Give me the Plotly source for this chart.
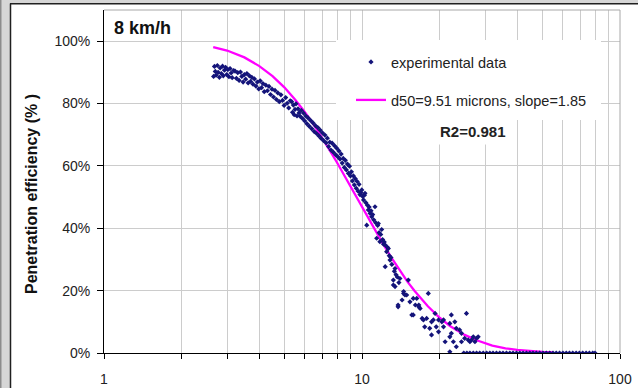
import plotly.graph_objects as go

# ---------------- data ----------------
exp_x = [2.66, 2.68, 2.70, 2.72, 2.75, 2.77, 2.80, 2.82, 2.85, 2.88, 2.90, 2.93, 2.96, 2.99, 3.02, 3.05, 3.08, 3.11, 3.14, 3.18,
         3.22, 3.26, 3.30, 3.34, 3.38, 3.42, 3.46, 3.50, 3.54, 3.58, 3.62, 3.66, 3.70, 3.74, 3.78,
         3.83, 3.88, 3.93, 3.98, 4.03, 4.08, 4.13, 4.18, 4.24, 4.30, 4.36, 4.42, 4.48,
         4.54, 4.60, 4.66, 4.72, 4.78, 4.85, 4.92, 4.99, 5.06, 5.13, 5.20, 5.27,
         5.34, 5.38, 5.42, 5.46, 5.50, 5.55, 5.60, 5.65, 5.70, 5.76,
         5.82, 5.88, 5.94, 6.00, 6.06, 6.12, 6.18, 6.25, 6.32, 6.39, 6.46, 6.53, 6.60, 6.67, 6.74, 6.81, 6.88, 6.95, 7.02, 7.10, 7.18, 7.26,
         7.34, 7.42, 7.50, 7.58, 7.66, 7.74, 7.82, 7.90, 7.98, 8.06, 8.14, 8.22,
         8.30, 8.38, 8.46, 8.54, 8.62, 8.70, 8.78, 8.86, 8.94, 9.02,
         9.10, 9.18, 9.26, 9.34, 9.42, 9.50, 9.58, 9.66, 9.74, 9.82,
         9.90, 9.98, 10.06, 10.14, 10.22, 10.27, 10.35, 10.43, 10.50, 10.58, 10.66, 10.75, 10.84, 10.90, 11.00, 11.10, 11.23, 11.30,
         11.40, 11.50, 11.57, 11.65, 11.73, 11.82, 11.92, 12.02, 12.12, 12.20, 12.30, 12.30, 12.46, 12.55, 12.65, 12.75, 12.84, 12.95,
         13.05, 13.23, 13.23, 13.35, 13.43, 13.43, 13.55, 13.70, 13.80, 13.80, 13.90, 14.03, 14.30, 14.50, 14.50, 14.67, 14.90, 15.12,
         15.34, 15.60, 15.80, 15.80, 16.10, 16.30, 16.60, 16.60, 16.80, 17.10, 17.30, 17.50, 17.80, 18.07, 18.30, 18.60, 18.60, 18.90,
         19.20, 19.40, 19.80, 19.80, 20.40, 20.70, 20.70, 21.00, 21.90, 21.90, 21.90, 22.20, 22.20, 22.60, 22.90, 23.20, 23.20, 23.90,
         24.30, 24.30, 25.00, 25.40, 25.80, 26.20, 26.60, 27.00, 27.40, 27.80, 28.20,
         24.8, 25.5, 26.2, 27.0, 27.8, 28.6, 29.5, 30.4, 31.3, 32.2, 33.2, 34.2, 35.2, 36.3, 37.4, 38.5, 39.7, 40.9, 42.1, 43.4,
         44.7, 46.0, 47.4, 48.8, 50.3, 51.8, 53.4, 55.0, 56.6, 58.3, 60.1, 61.9, 63.7, 65.6, 67.6, 69.6, 71.7, 73.9, 76.1, 78.4, 80.0]

exp_y = [88.7, 91.9, 90.3, 89.1, 92.2, 90.0, 88.4, 91.4, 89.6, 92.0, 88.9, 90.7, 91.6, 89.3, 90.9, 88.6, 91.2, 89.8, 88.3, 90.6,
         90.4, 88.1, 89.9, 87.4, 90.1, 88.7, 86.9, 89.3, 87.8, 89.6, 86.6, 88.9, 87.1, 88.4, 86.2,
         87.9, 85.6, 86.9, 84.7, 87.3, 85.1, 86.4, 83.8, 85.9, 84.1, 85.5, 82.9, 84.6,
         82.1, 84.2, 81.3, 83.4, 80.6, 82.8, 81.0, 79.4, 81.9, 80.1, 78.6, 80.9,
         80.6, 77.2, 79.5, 76.4, 78.1, 79.9, 76.0, 78.3, 77.0, 75.9,
         77.8, 75.2, 76.9, 74.4, 76.0, 73.5, 75.4, 72.7, 74.6, 71.9, 73.8, 71.0, 72.9, 70.4, 72.3, 69.6, 71.5, 68.8, 70.6, 68.1, 69.9, 67.4,
         68.9, 66.2, 67.6, 65.1, 67.3, 64.4, 66.5, 63.6, 65.7, 62.9, 64.8, 62.2,
         63.8, 60.9, 62.4, 59.5, 61.8, 58.7, 60.6, 57.6, 59.9, 56.8,
         58.1, 55.2, 56.8, 53.9, 55.9, 52.8, 55.0, 51.9, 54.1, 50.8,
         51.4, 52.3, 50.2, 49.1, 50.6, 51.2, 48.2, 41.0, 47.4, 45.9, 46.8, 44.8, 45.6, 43.7, 44.4, 42.7, 46.9, 41.8,
         36.8, 40.9, 41.5, 38.6, 35.7, 38.0, 39.6, 36.4, 34.9, 35.6, 34.6, 27.7, 32.5, 33.9, 33.5, 31.2, 29.8, 30.6,
         28.4, 23.4, 21.8, 26.2, 27.1, 21.3, 25.1, 24.4, 15.4, 14.8, 22.6, 23.9, 17.0, 19.1, 19.7, 18.6, 18.6, 23.4,
         16.4, 12.2, 17.5, 12.2, 15.4, 17.5, 14.8, 15.4, 14.3, 11.1, 10.6, 8.4, 11.1, 19.1, 7.9, 10.0, 5.8, 10.6,
         12.7, 8.4, 10.6, 6.8, 10.0, 10.6, 8.4, 3.6, 9.5, 5.2, 0.4, 12.2, 6.3, 3.6, 10.0, 7.9, 2.0, 7.4,
         6.3, 3.6, 4.7, 12.7, 4.2, 3.6, 4.2, 5.2, 3.6, 4.7, 5.2,
         0.0, 0.0, 0.0, 0.0, 0.0, 0.0, 0.0, 0.0, 0.0, 0.0, 0.0, 0.0, 0.0, 0.0, 0.0, 0.0, 0.0, 0.0, 0.0, 0.0,
         0.0, 0.0, 0.0, 0.0, 0.0, 0.0, 0.0, 0.0, 0.0, 0.0, 0.0, 0.0, 0.0, 0.0, 0.0, 0.0, 0.0, 0.0, 0.0, 0.0, 0.0]

fit_x = [2.65, 3.0, 3.5, 4.0, 4.5, 5.0, 5.5, 6.0, 6.5, 7.0, 7.5, 8.0, 8.5, 9.0, 9.51, 10.0, 11.0, 12.0, 13.0, 14.0,
         15.0, 16.0, 18.0, 20.0, 22.0, 25.0, 28.0, 32.0, 36.0, 40.0, 45.0, 50.0, 55.0]
fit_y = [98.1, 97.0, 94.8, 92.0, 88.8, 85.2, 81.3, 77.3, 73.2, 69.1, 65.0, 61.1, 57.2, 53.6, 50.0, 46.7, 40.6, 35.3, 30.6, 26.5,
         22.9, 19.9, 15.0, 11.3, 8.6, 5.8, 4.0, 2.4, 1.5, 1.0, 0.6, 0.35, 0.22]

x_tick_vals = [1, 2, 3, 4, 5, 6, 7, 8, 9, 10, 20, 30, 40, 50, 60, 70, 80, 90, 100]
x_tick_text = ["1", "", "", "", "", "", "", "", "", "10", "", "", "", "", "", "", "", "", "100"]
y_tick_vals = [0, 20, 40, 60, 80, 100]
y_tick_text = ["0%", "20%", "40%", "60%", "80%", "100%"]

# ---------------- geometry helpers ----------------
W, H = 638, 388
L, R, T, B = 104, 18, 10, 35
PW, PH = W - L - R, H - T - B


def px(xp):
    return (xp - L) / PW


def py(yp):
    return (H - B - yp) / PH


FONT = "Liberation Sans, Arial, sans-serif"

fig = go.Figure()

fig.add_trace(go.Scatter(
    x=fit_x, y=fit_y, mode="lines",
    line=dict(color="#ff00ff", width=2.3),
    name="d50=9.51 microns, slope=1.85",
    legend="legend2",
))

fig.add_trace(go.Scatter(
    x=exp_x, y=exp_y, mode="markers",
    marker=dict(symbol="diamond", size=4, color="#14147a"),
    name="experimental data",
    legend="legend",
))

shapes = []
shapes.append(dict(type="rect", xref="paper", yref="paper",
                   x0=px(336), x1=px(601), y0=py(120), y1=py(40),
                   fillcolor="white", line=dict(width=0), layer="above"))
shapes.append(dict(type="line", xref="paper", yref="paper", x0=0, x1=1, y0=1, y1=1,
                   line=dict(color="#a8a8a8", width=1)))
shapes.append(dict(type="line", xref="paper", yref="paper", x0=1, x1=1, y0=0, y1=1,
                   line=dict(color="#a8a8a8", width=1)))
shapes.append(dict(type="rect", xref="paper", yref="paper",
                   x0=px(0), x1=px(10), y0=py(H), y1=py(0),
                   fillcolor="#d6d6d6", line=dict(width=0)))
shapes.append(dict(type="rect", xref="paper", yref="paper",
                   x0=px(0), x1=px(W), y0=py(3.2), y1=py(0),
                   fillcolor="#d6d6d6", line=dict(width=0)))
shapes.append(dict(type="rect", xref="paper", yref="paper",
                   x0=px(0), x1=px(1.5), y0=py(H), y1=py(0),
                   fillcolor="#8c8c8c", line=dict(width=0)))
shapes.append(dict(type="line", xref="paper", yref="paper",
                   x0=px(10.5), x1=px(10.5), y0=py(H), y1=py(3.5),
                   line=dict(color="#202020", width=1.5)))
shapes.append(dict(type="line", xref="paper", yref="paper",
                   x0=px(10), x1=px(W), y0=py(3.8), y1=py(3.8),
                   line=dict(color="#202020", width=1.5)))

annotations = [
    dict(text="<b>8 km/h</b>", xref="paper", yref="paper", x=px(112), y=py(28),
         xanchor="left", yanchor="middle", showarrow=False,
         font=dict(family=FONT, size=18, color="#111")),
    dict(text="<b>R2=0.981</b>", xref="paper", yref="paper", x=px(472), y=py(131),
         xanchor="center", yanchor="middle", showarrow=False, bgcolor="white", borderpad=4,
         font=dict(family=FONT, size=15, color="#222")),
    dict(text="<b>Penetration efficiency (% )</b>", xref="paper", yref="paper", x=px(31), y=py(194),
         xanchor="center", yanchor="middle", showarrow=False, textangle=-90,
         font=dict(family=FONT, size=16, color="#111")),
]

fig.update_layout(
    width=W, height=H,
    margin=dict(l=L, r=R, t=T, b=B, pad=0, autoexpand=False),
    paper_bgcolor="white", plot_bgcolor="white",
    font=dict(family=FONT, size=13, color="#222"),
    showlegend=True,
    legend=dict(x=px(351), y=py(62), xanchor="left", yanchor="middle",
                bgcolor="rgba(0,0,0,0)", borderwidth=0,
                font=dict(family=FONT, size=14.5, color="#222")),
    legend2=dict(x=px(351), y=py(100), xanchor="left", yanchor="middle",
                 bgcolor="rgba(0,0,0,0)", borderwidth=0,
                 font=dict(family=FONT, size=14.5, color="#222")),
    shapes=shapes,
    annotations=annotations,
    xaxis=dict(type="log", range=[0, 2], tickmode="array", tickvals=x_tick_vals, ticktext=x_tick_text,
               showgrid=True, gridcolor="#cccccc", gridwidth=1,
               ticks="outside", ticklen=5, tickcolor="#000", tickwidth=1,
               showline=True, linecolor="#000", linewidth=1,
               ticklabelstandoff=8, zeroline=False, automargin=False,
               tickfont=dict(family=FONT, size=14, color="#222")),
    yaxis=dict(range=[0, 110], tickmode="array", tickvals=y_tick_vals, ticktext=y_tick_text,
               showgrid=True, gridcolor="#cccccc", gridwidth=1,
               ticks="outside", ticklen=6, tickcolor="#000", tickwidth=1,
               showline=True, linecolor="#000", linewidth=1,
               ticklabelstandoff=4, zeroline=False, automargin=False,
               tickfont=dict(family=FONT, size=14, color="#222")),
)

fig.write_html("out.html", config={"displayModeBar": False},
               post_script="document.body.style.margin='0';document.body.style.padding='0';")
